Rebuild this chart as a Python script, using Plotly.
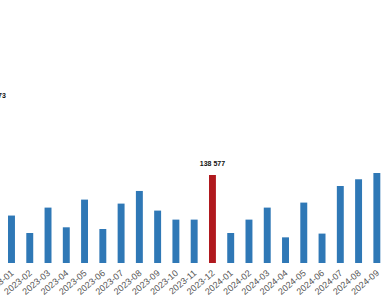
import plotly.graph_objects as go

months = ["2022-12",
          "2023-01", "2023-02", "2023-03", "2023-04", "2023-05", "2023-06",
          "2023-07", "2023-08", "2023-09", "2023-10", "2023-11", "2023-12",
          "2024-01", "2024-02", "2024-03", "2024-04", "2024-05", "2024-06",
          "2024-07", "2024-08", "2024-09"]
values = [245573,
          74700, 47200, 87200, 56200, 99800, 53500,
          93500, 113400, 82500, 68300, 68300, 138577,
          47200, 68300, 87200, 40400, 95100, 46300,
          121200, 131800, 141700]
highlight_months = ["2022-12", "2023-12"]

BLUE = "#2F78B6"
RED = "#B0191E"

colors = [RED if m in highlight_months else BLUE for m in months]
lab_x = [m for m in months if m in highlight_months]
lab_y = [v for m, v in zip(months, values) if m in highlight_months]
lab_t = [f"{v:,}".replace(",", " ") for v in lab_y]

fig = go.Figure()
fig.add_trace(go.Bar(
    x=months, y=values,
    marker=dict(color=colors, line=dict(width=0)),
    cliponaxis=True,
))
fig.add_trace(go.Scatter(
    x=lab_x, y=lab_y, text=lab_t, mode="markers+text",
    textposition="top center", cliponaxis=True,
    marker=dict(size=10, opacity=0),
    textfont=dict(family="Arial", size=7, color="#111111", weight="bold"),
    hoverinfo="skip",
))

fig.update_layout(
    width=390, height=300,
    margin=dict(l=0, r=0, t=0, b=37, autoexpand=False),
    paper_bgcolor="white", plot_bgcolor="white",
    bargap=0.62, showlegend=False,
    xaxis=dict(type="category", range=[0.371, 21.72], tickmode="array",
               tickvals=months, ticktext=months, tickangle=-40,
               ticklabelstandoff=2,
               tickfont=dict(family="Arial", size=9, color="#555555"),
               showgrid=False, zeroline=False, showline=False, automargin=False),
    yaxis=dict(range=[0, 414000], visible=False, showgrid=False, zeroline=False),
)

fig.write_html("out.html")
